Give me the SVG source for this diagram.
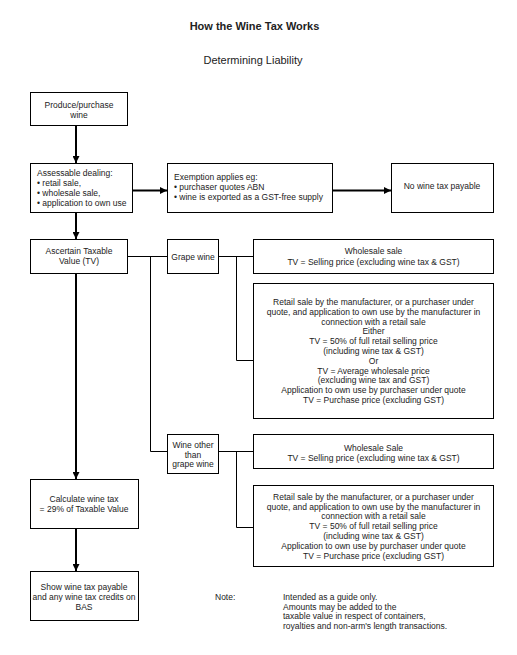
<svg xmlns="http://www.w3.org/2000/svg" width="517" height="655" viewBox="0 0 517 655">
<style>
text{font-family:"Liberation Sans",Arial,sans-serif;font-size:8.5px;fill:#222}
.c{text-anchor:middle}
.title{font-size:11px;font-weight:bold}
.sub{font-size:11px}
rect{fill:#fff;stroke:#000;stroke-width:1}
.arr{stroke:#000;stroke-width:2;fill:none;marker-end:url(#ah)}
.ln{stroke:#000;stroke-width:1;fill:none}
</style>
<defs>
<marker id="ah" markerUnits="userSpaceOnUse" markerWidth="7" markerHeight="7" viewBox="0 0 10 10" refX="10" refY="5" orient="auto">
<path d="M0,0 L10,5 L0,10 z" fill="#000"/>
</marker>
</defs>
<rect x="0" y="0" width="517" height="655" style="stroke:none"/>
<text class="c title" x="254.5" y="30">How the Wine Tax Works</text>
<text class="c sub" x="253" y="64">Determining Liability</text>
<g id="connectors">
<path class="arr" d="M76,125.5 V163"/>
<path class="arr" d="M132.5,190.5 H167"/>
<path class="arr" d="M332.5,190.5 H391"/>
<path class="arr" d="M76,212.5 V239"/>
<path class="arr" d="M76,273.5 V479"/>
<path class="arr" d="M76,528.5 V571"/>
<path class="ln" d="M127.5,256.5 H167.5"/>
<path class="ln" d="M150.5,256.5 V451.5 H167.5"/>
<path class="ln" d="M218.5,256.5 H253.5"/>
<path class="ln" d="M236.5,256.5 V360.5 H253.5"/>
<path class="ln" d="M218.5,451.5 H253.5"/>
<path class="ln" d="M236.5,451.5 V527.5 H253.5"/>
</g>
<g id="n1">
<rect x="30.5" y="92.5" width="97" height="33"/>
<text class="c" x="79" y="108">Produce/purchase</text>
<text class="c" x="79" y="118">wine</text>
</g>
<g id="n2">
<rect x="30.5" y="163.5" width="102" height="49"/>
<text x="37" y="176">Assessable dealing:</text>
<text x="37" y="186">• retail sale,</text>
<text x="37" y="196">• wholesale sale,</text>
<text x="37" y="205.5">• application to own use</text>
</g>
<g id="n3">
<rect x="167.5" y="163.5" width="165" height="49"/>
<text x="174" y="180">Exemption applies eg:</text>
<text x="174" y="190">• purchaser quotes ABN</text>
<text x="174" y="200">• wine is exported as a GST-free supply</text>
</g>
<g id="n4">
<rect x="391.5" y="163.5" width="102" height="49"/>
<text class="c" x="442" y="189">No wine tax payable</text>
</g>
<g id="n5">
<rect x="30.5" y="239.5" width="97" height="34"/>
<text class="c" x="79" y="254">Ascertain Taxable</text>
<text class="c" x="79" y="264">Value (TV)</text>
</g>
<g id="n6">
<rect x="167.5" y="239.5" width="51" height="34"/>
<text class="c" x="193" y="259.5">Grape wine</text>
</g>
<g id="n7">
<rect x="253.5" y="239.5" width="240" height="34"/>
<text class="c" x="373.5" y="254">Wholesale sale</text>
<text class="c" x="373.5" y="264.5">TV = Selling price (excluding wine tax &amp; GST)</text>
</g>
<g id="n8">
<rect x="253.5" y="283.5" width="240" height="135"/>
<text class="c" x="373.5" y="305">Retail sale by the manufacturer, or a purchaser under</text>
<text class="c" x="373.5" y="314.8">quote, and application to own use by the manufacturer in</text>
<text class="c" x="373.5" y="324.6">connection with a retail sale</text>
<text class="c" x="373.5" y="334.4">Either</text>
<text class="c" x="373.5" y="344.2">TV = 50% of full retail selling price</text>
<text class="c" x="373.5" y="354">(including wine tax &amp; GST)</text>
<text class="c" x="373.5" y="363.8">Or</text>
<text class="c" x="373.5" y="373.6">TV = Average wholesale price</text>
<text class="c" x="373.5" y="383.4">(excluding wine tax and GST)</text>
<text class="c" x="373.5" y="393.2">Application to own use by purchaser under quote</text>
<text class="c" x="373.5" y="403">TV = Purchase price (excluding GST)</text>
</g>
<g id="n9">
<rect x="167.5" y="434.5" width="51" height="39"/>
<text class="c" x="193" y="448">Wine other</text>
<text class="c" x="193" y="457.5">than</text>
<text class="c" x="193" y="467">grape wine</text>
</g>
<g id="n10">
<rect x="253.5" y="434.5" width="240" height="34"/>
<text class="c" x="373.5" y="451">Wholesale Sale</text>
<text class="c" x="373.5" y="460.7">TV = Selling price (excluding wine tax &amp; GST)</text>
</g>
<g id="n11">
<rect x="253.5" y="485.5" width="240" height="81"/>
<text class="c" x="373.5" y="499.7">Retail sale by the manufacturer, or a purchaser under</text>
<text class="c" x="373.5" y="509.5">quote, and application to own use by the manufacturer in</text>
<text class="c" x="373.5" y="519.3">connection with a retail sale</text>
<text class="c" x="373.5" y="529.1">TV = 50% of full retail selling price</text>
<text class="c" x="373.5" y="538.9">(including wine tax &amp; GST)</text>
<text class="c" x="373.5" y="548.7">Application to own use by purchaser under quote</text>
<text class="c" x="373.5" y="558.5">TV = Purchase price (excluding GST)</text>
</g>
<g id="n12">
<rect x="30.5" y="479.5" width="108" height="49"/>
<text class="c" x="84" y="502.3">Calculate wine tax</text>
<text class="c" x="84" y="512.3">= 29% of Taxable Value</text>
</g>
<g id="n13">
<rect x="30.5" y="571.5" width="108" height="49"/>
<text class="c" x="84" y="589.7">Show wine tax payable</text>
<text class="c" x="84" y="599.7">and any wine tax credits on</text>
<text class="c" x="84" y="609.5">BAS</text>
</g>
<g id="note">
<text x="215" y="599.7">Note:</text>
<text x="283" y="599.7">Intended as a guide only.</text>
<text x="283" y="609.5">Amounts may be added to the</text>
<text x="283" y="619.3">taxable value in respect of containers,</text>
<text x="283" y="629">royalties and non-arm's length transactions.</text>
</g>
</svg>
